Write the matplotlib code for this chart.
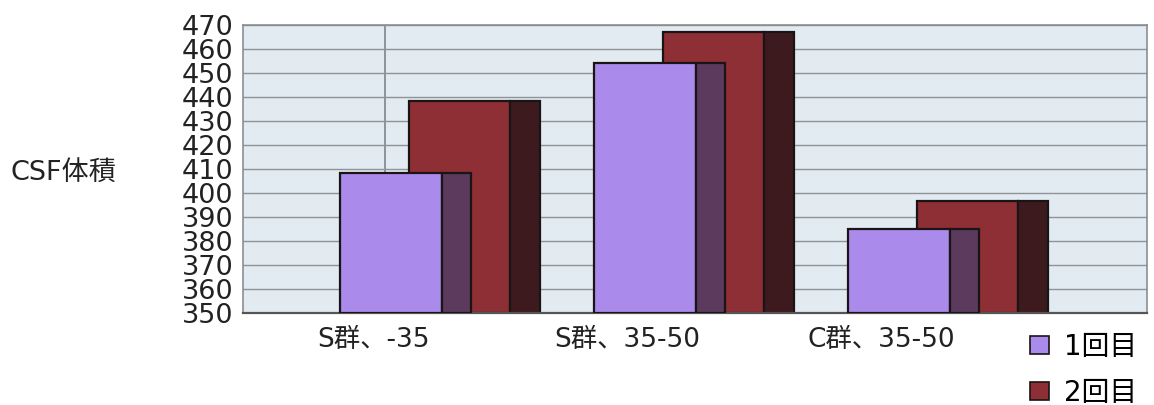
import matplotlib
matplotlib.use("Agg")
import matplotlib.pyplot as plt
from matplotlib.patches import Patch
import numpy as np

plt.rcParams['font.family'] = ['DejaVu Sans', 'Noto Sans CJK JP']
MIXED = ['DejaVu Sans', 'Noto Sans CJK JP']

# Data
categories = ["S群、-35", "S群、35-50", "C群、35-50"]
series_names = ["1回目", "2回目"]
first_visit = [408.5, 454, 385]
second_visit = [438.5, 467, 396.5]
y_ticks = list(range(350, 471, 10))

# Styling
front_colors = ["#AA8AEA", "#8E2E35"]
side_colors = ["#5B3A5E", "#3C1A1E"]
bg_color = "#E2EBF1"
grid_color = "#8F9396"
text_color = "#222222"

W, H = 1154, 405
fig = plt.figure(figsize=(W / 100, H / 100), dpi=100)
ax = fig.add_axes([243 / W, (H - 313) / H, (1147 - 243) / W, (313 - 25) / H])
ax.set_facecolor(bg_color)

ymin, ymax = 350, 470
ax.set_ylim(ymin, ymax)
ax.set_xlim(-0.783, 2.776)

x = np.arange(len(categories))
front_w = 0.40
side_w = 0.115
offsets = [-0.40, -0.13]

# Draw second series first so the first series sits in front
for s_idx, vals in reversed(list(enumerate([first_visit, second_visit]))):
    z = 3 if s_idx == 0 else 2
    heights = np.array(vals) - ymin
    left = x + offsets[s_idx]
    ax.bar(left, heights, width=front_w, bottom=ymin, align='edge',
           color=front_colors[s_idx], edgecolor="#1a1414", linewidth=1.6, zorder=z)
    ax.bar(left + front_w, heights, width=side_w, bottom=ymin, align='edge',
           color=side_colors[s_idx], edgecolor="#1a1414", linewidth=1.6, zorder=z)

# Grid
ax.set_yticks(y_ticks)
ax.yaxis.grid(True, color=grid_color, linewidth=1.0, zorder=0)
ax.set_axisbelow(True)
ax.axvline(-0.224, color="#7d858c", linewidth=1.2, zorder=0.5)

ax.set_yticklabels([str(t) for t in y_ticks], fontsize=19.5,
                   family=['DejaVu Sans'], color=text_color)
ax.tick_params(axis='y', length=0, pad=7)
ax.set_xticks(x - 0.27)
ax.set_xticklabels(categories, fontsize=19, family=MIXED, color=text_color)
ax.tick_params(axis='x', length=0, pad=10)

for sp in ax.spines.values():
    sp.set_color("#8a8e92")
    sp.set_linewidth(1.2)
ax.spines['bottom'].set_color("#555555")
ax.spines['bottom'].set_linewidth(1.6)

fig.text(10 / W, 1 - 173 / H, "CSF体積", fontsize=19.5, family=MIXED,
         va='center', ha='left', color=text_color)

handles = [Patch(facecolor=front_colors[i], edgecolor="#1a1414", linewidth=1.2)
           for i in range(2)]
fig.legend(handles, series_names, loc='upper left',
           bbox_to_anchor=(1030 / W, 1 - 333 / H), frameon=False,
           prop={'family': MIXED, 'size': 20},
           handlelength=0.68, handleheight=0.6,
           handletextpad=0.55, labelspacing=0.65, borderpad=0, borderaxespad=0)

fig.savefig("out.png", dpi=100, facecolor="white")
